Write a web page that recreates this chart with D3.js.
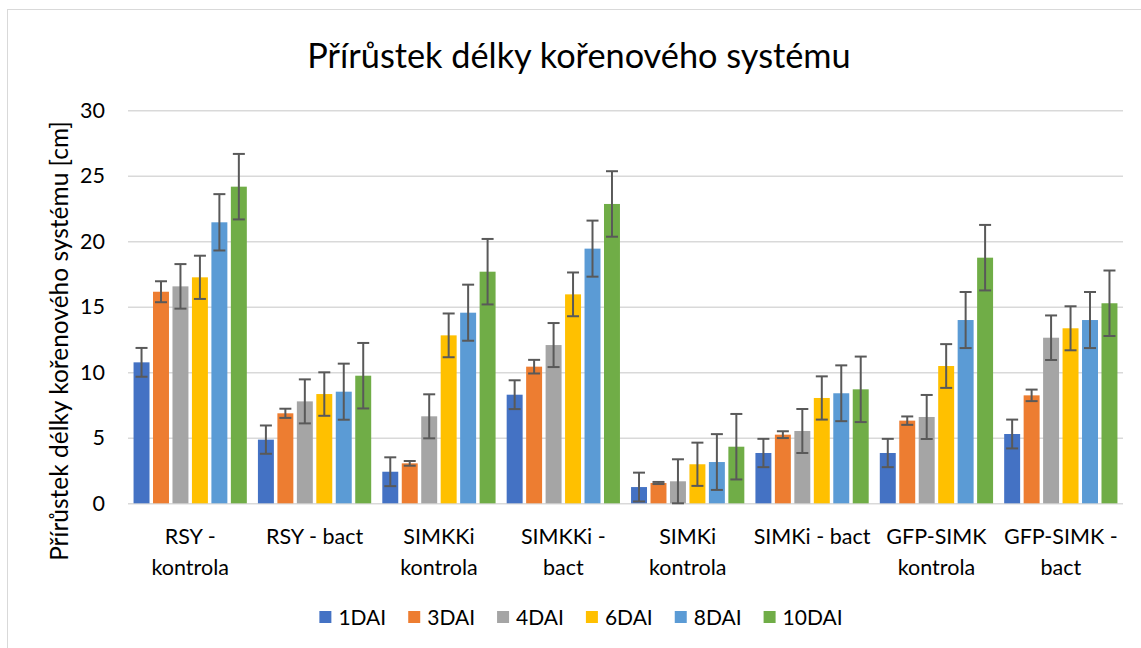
<!DOCTYPE html>
<html>
<head>
<meta charset="utf-8">
<script src="https://cdn.jsdelivr.net/npm/d3@7"></script>
<style>
  body { margin: 0; background: #fff; }
  svg { display: block; }
  text { font-family: Lato, "Open Sans", sans-serif; fill: #000; }
</style>
</head>
<body>
<svg id="chart" width="1141" height="648"></svg>
<script>
// Categories and their wrapped tick labels
const categories = ["RSY - kontrola", "RSY - bact", "SIMKKi kontrola", "SIMKKi - bact",
  "SIMKi kontrola", "SIMKi - bact", "GFP-SIMK kontrola", "GFP-SIMK - bact"];
const categoryLines = [["RSY -", "kontrola"], ["RSY - bact"], ["SIMKKi", "kontrola"], ["SIMKKi -", "bact"],
  ["SIMKi", "kontrola"], ["SIMKi - bact"], ["GFP-SIMK", "kontrola"], ["GFP-SIMK -", "bact"]];

const seriesNames = ["1DAI", "3DAI", "4DAI", "6DAI", "8DAI", "10DAI"];
const seriesColors = ["#4472C4", "#ED7D31", "#A5A5A5", "#FFC000", "#5B9BD5", "#70AD47"];

// Means per series (one value per category)
const v1DAI  = [10.76, 4.86, 2.41, 8.29, 1.24, 3.84, 3.84, 5.29];
const v3DAI  = [16.15, 6.87, 3.05, 10.43, 1.55, 5.24, 6.31, 8.24];
const v4DAI  = [16.56, 7.78, 6.64, 12.08, 1.68, 5.52, 6.59, 12.64];
const v6DAI  = [17.25, 8.34, 12.82, 15.95, 2.98, 8.04, 10.48, 13.36];
const v8DAI  = [21.45, 8.52, 14.55, 19.44, 3.15, 8.40, 13.99, 13.99];
const v10DAI = [24.17, 9.74, 17.68, 22.85, 4.32, 8.70, 18.75, 15.27];

// Error bar half-lengths
const e1DAI  = [1.10, 1.08, 1.10, 1.10, 1.10, 1.08, 1.08, 1.10];
const e3DAI  = [0.80, 0.35, 0.18, 0.52, 0.08, 0.26, 0.32, 0.44];
const e4DAI  = [1.70, 1.68, 1.68, 1.68, 1.68, 1.68, 1.68, 1.70];
const e6DAI  = [1.65, 1.66, 1.67, 1.67, 1.65, 1.65, 1.67, 1.68];
const e8DAI  = [2.15, 2.14, 2.14, 2.14, 2.13, 2.13, 2.14, 2.14];
const e10DAI = [2.50, 2.50, 2.50, 2.50, 2.50, 2.50, 2.50, 2.50];

const yTicks = [0, 5, 10, 15, 20, 25, 30];

const seriesValues = [v1DAI, v3DAI, v4DAI, v6DAI, v8DAI, v10DAI];
const seriesErrors = [e1DAI, e3DAI, e4DAI, e6DAI, e8DAI, e10DAI];

const rows = [];
categories.forEach((c, i) => {
  seriesNames.forEach((s, j) => {
    rows.push({ cat: c, series: s, value: seriesValues[j][i], err: seriesErrors[j][i], color: seriesColors[j] });
  });
});

const svg = d3.select("#chart");

// chart border
svg.append("rect")
  .attr("x", 7.5).attr("y", 9.5)
  .attr("width", 1160).attr("height", 660)
  .attr("fill", "none")
  .attr("stroke", "#D9D9D9")
  .attr("stroke-width", 1);

const plot = { left: 128, right: 1123, top: 110.3, bottom: 503.3 };

const x0 = d3.scaleBand()
  .domain(categories)
  .range([plot.left, plot.right])
  .padding(0);

const x1 = d3.scaleBand()
  .domain(seriesNames)
  .range([0, x0.bandwidth()])
  .paddingInner(0.18)
  .paddingOuter(0.285);

const y = d3.scaleLinear()
  .domain([0, 30])
  .range([plot.bottom, plot.top]);

// Title
svg.append("text")
  .attr("x", 579)
  .attr("y", 68)
  .attr("text-anchor", "middle")
  .style("font-size", "34.3px")
  .text("Přírůstek délky kořenového systému");

// Y axis with gridlines
const yAxis = svg.append("g")
  .attr("transform", `translate(${plot.left},0)`)
  .call(d3.axisLeft(y).tickValues(yTicks).tickSize(-(plot.right - plot.left)).tickPadding(23));
yAxis.select(".domain").remove();
yAxis.selectAll(".tick line")
  .attr("stroke", "#D9D9D9")
  .attr("stroke-width", 1.4);
yAxis.selectAll(".tick text")
  .style("font-size", "21.5px")
  .style("font-family", "Lato, 'Open Sans', sans-serif")
  .attr("fill", "#000");

// Y axis title
svg.append("text")
  .attr("transform", "translate(68,341) rotate(-90)")
  .attr("text-anchor", "middle")
  .style("font-size", "24.5px")
  .text("Přírůstek délky kořenového systému [cm]");

// X axis labels
const xAxis = svg.append("g")
  .attr("transform", `translate(0,${plot.bottom})`)
  .call(d3.axisBottom(x0).tickSize(0).tickFormat(""));
xAxis.select(".domain").remove();
xAxis.selectAll(".tick").each(function(d, i) {
  const t = d3.select(this).append("text")
    .attr("text-anchor", "middle")
    .attr("fill", "#000")
    .style("font-size", "21.5px")
    .style("font-family", "Lato, 'Open Sans', sans-serif");
  categoryLines[i].forEach((line, k) => {
    t.append("tspan").attr("x", 0).attr("y", 41 + k * 31).text(line);
  });
});

// Bars
svg.append("g")
  .selectAll("rect")
  .data(rows)
  .enter()
  .append("rect")
  .attr("x", d => x0(d.cat) + x1(d.series))
  .attr("y", d => y(d.value))
  .attr("width", x1.bandwidth())
  .attr("height", d => y(0) - y(d.value))
  .attr("fill", d => d.color);

// Error bars
const eg = svg.append("g")
  .attr("stroke", "#595959")
  .attr("stroke-width", 2);
rows.forEach(d => {
  const cx = x0(d.cat) + x1(d.series) + x1.bandwidth() / 2;
  const lo = Math.max(0, d.value - d.err);
  const hi = d.value + d.err;
  eg.append("line").attr("x1", cx).attr("x2", cx).attr("y1", y(hi)).attr("y2", y(lo));
  eg.append("line").attr("x1", cx - 6).attr("x2", cx + 6).attr("y1", y(hi)).attr("y2", y(hi));
  eg.append("line").attr("x1", cx - 6).attr("x2", cx + 6).attr("y1", y(lo)).attr("y2", y(lo));
});

// Legend
const legend = svg.append("g");
let lx = 0;
seriesNames.forEach((s, j) => {
  const item = legend.append("g").attr("transform", `translate(${lx},0)`);
  item.append("rect")
    .attr("x", 0).attr("y", -6)
    .attr("width", 12).attr("height", 12)
    .attr("fill", seriesColors[j]);
  const t = item.append("text")
    .attr("x", 19)
    .attr("y", 7.5)
    .style("font-size", "21px")
    .text(s);
  lx += 19 + t.node().getComputedTextLength() + 22;
});
const legendWidth = lx - 22;
legend.attr("transform", `translate(${581 - legendWidth / 2},617)`);
</script>
</body>
</html>
